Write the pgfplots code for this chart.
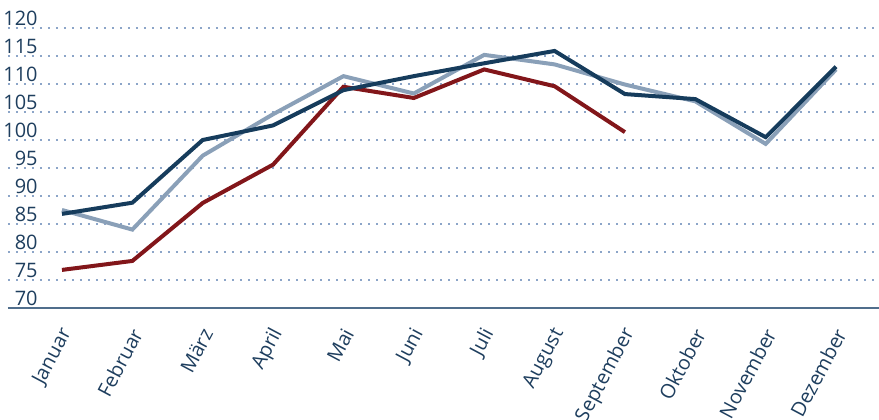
\documentclass[border=0pt]{standalone}
\usepackage{pgfplots}
\pgfplotsset{compat=1.18}
\usepackage{fontspec}
\setmainfont{Open Sans}
\definecolor{navy}{RGB}{22,60,92}
\definecolor{lightb}{RGB}{138,160,184}
\definecolor{dred}{RGB}{130,22,26}
\definecolor{txt}{RGB}{30,62,94}
\definecolor{gridc}{RGB}{140,165,200}
\definecolor{axc}{RGB}{80,110,140}
\begin{document}
\begin{tikzpicture}
\begin{axis}[
  scale only axis,
  width=435.5bp, height=140bp,
  xmin=-0.767, xmax=11.61,
  ymin=70, ymax=120,
  ytick={70,75,...,120},
  xtick={0,...,11},
  xticklabels={Januar,Februar,März,April,Mai,Juni,Juli,August,September,Oktober,November,Dezember},
  axis x line*=bottom,
  axis y line*=left,
  x axis line style={draw=axc, line width=0.8bp},
  y axis line style={draw=none},
  tick style={draw=none},
  ymajorgrids,
  major grid style={gridc, dash pattern=on 1bp off 3bp, line width=0.6bp},
  /pgf/number format/assume math mode=true,
  ticklabel style={font=\fontsize{10}{12}\selectfont, text=txt},
  yticklabel style={anchor=south east, inner sep=0pt, xshift=15bp, yshift=1bp},
  xticklabel style={xshift=2.5bp, yshift=-11bp, rotate=62, anchor=east, inner sep=0pt},
  clip=false,
]
\addplot[lightb, line width=2bp] coordinates {(0,87.5)(1,84.0)(2,97.2)(3,104.6)(4,111.4)(5,108.3)(6,115.2)(7,113.5)(8,109.9)(9,106.9)(10,99.3)(11,112.6)};
\addplot[dred, line width=2bp] coordinates {(0,76.8)(1,78.4)(2,88.75)(3,95.6)(4,109.5)(5,107.5)(6,112.6)(7,109.6)(8,101.4)};
\addplot[navy, line width=2bp] coordinates {(0,86.8)(1,88.8)(2,100.0)(3,102.6)(4,108.9)(5,111.4)(6,113.7)(7,115.9)(8,108.2)(9,107.3)(10,100.5)(11,113.1)};
\coordinate (bl) at (rel axis cs:0,0);
\coordinate (tr) at (rel axis cs:1,1);
\end{axis}
\pgfresetboundingbox
\path ([shift={(-4bp,-56bp)}]bl) rectangle ([shift={(0,14bp)}]tr);
\end{tikzpicture}
\end{document}
